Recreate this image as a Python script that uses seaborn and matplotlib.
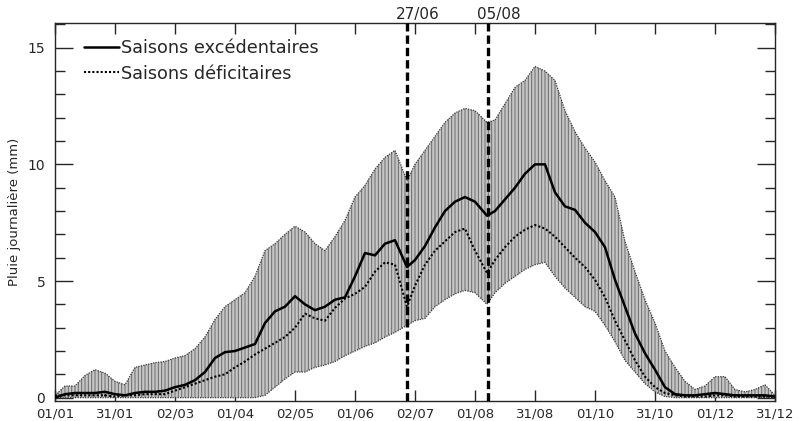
import numpy as np
import pandas as pd
import matplotlib
matplotlib.use("Agg")
import matplotlib.pyplot as plt
import seaborn as sns
from matplotlib.ticker import MultipleLocator
from matplotlib.lines import Line2D

# ---- data ----
days = [0, 5, 10, 15, 20, 25, 30, 35, 40, 45, 50, 55, 60, 65, 70, 75, 80, 85, 90, 95,
        100, 105, 110, 115, 120, 125, 130, 135, 140, 145, 150, 155, 160, 165, 170, 176,
        180, 185, 190, 195, 200, 205, 210, 216, 220, 225, 230, 235, 240, 245, 250, 255,
        260, 265, 270, 275, 280, 285, 290, 295, 300, 305, 310, 315, 320, 325, 330, 335,
        340, 345, 350, 355, 360]

upper = [0.1, 0.5, 0.5, 0.95, 1.2, 1.05, 0.7, 0.55, 1.3, 1.4, 1.5, 1.55, 1.7, 1.8, 2.1, 2.6,
         3.35, 3.9, 4.2, 4.5, 5.2, 6.3, 6.6, 7.0, 7.35, 7.1, 6.6, 6.3, 6.9, 7.6, 8.6, 9.1,
         9.8, 10.3, 10.6, 9.3, 10.0, 10.6, 11.2, 11.8, 12.2, 12.4, 12.3, 11.8, 11.9, 12.6,
         13.3, 13.6, 14.2, 14.0, 13.6, 12.3, 11.4, 10.7, 10.1, 9.3, 8.6, 6.7, 5.4, 4.2, 3.2,
         2.0, 1.3, 0.7, 0.35, 0.5, 0.9, 0.9, 0.35, 0.25, 0.35, 0.55, 0.1]

lower = [0.0, 0.0, 0.0, 0.0, 0.0, 0.0, 0.0, 0.0, 0.0, 0.0, 0.0, 0.0, 0.0, 0.0, 0.0, 0.0,
         0.0, 0.0, 0.0, 0.0, 0.0, 0.1, 0.45, 0.8, 1.1, 1.1, 1.3, 1.4, 1.55, 1.8, 2.0, 2.2,
         2.35, 2.6, 2.8, 3.1, 3.3, 3.4, 3.9, 4.2, 4.45, 4.6, 4.5, 4.0, 4.5, 4.9, 5.2, 5.5,
         5.7, 5.8, 5.2, 4.7, 4.3, 3.9, 3.7, 3.1, 2.4, 1.6, 1.1, 0.6, 0.25, 0.05, 0.0, 0.0,
         0.0, 0.0, 0.0, 0.0, 0.0, 0.0, 0.0, 0.0, 0.0]

excedentaires = [0.0, 0.15, 0.2, 0.2, 0.2, 0.25, 0.15, 0.1, 0.2, 0.25, 0.25, 0.3, 0.45,
                 0.55, 0.75, 1.1, 1.7, 1.95, 2.0, 2.15, 2.3, 3.2, 3.7, 3.9, 4.35, 4.0,
                 3.75, 3.9, 4.2, 4.3, 5.2, 6.2, 6.1, 6.6, 6.75, 5.6, 5.9, 6.5, 7.3, 8.0,
                 8.4, 8.6, 8.4, 7.8, 8.0, 8.5, 9.0, 9.6, 10.0, 10.0, 8.8, 8.2, 8.05, 7.5,
                 7.1, 6.45, 5.05, 3.9, 2.75, 1.9, 1.2, 0.45, 0.15, 0.1, 0.1, 0.15, 0.2,
                 0.15, 0.1, 0.1, 0.1, 0.1, 0.05]

deficitaires = [0.1, 0.1, 0.1, 0.1, 0.1, 0.1, 0.05, 0.1, 0.1, 0.15, 0.15, 0.15, 0.3, 0.45,
                0.6, 0.75, 0.9, 1.0, 1.3, 1.55, 1.85, 2.1, 2.35, 2.6, 3.0, 3.6, 3.4, 3.3,
                3.85, 4.25, 4.45, 4.75, 5.4, 5.8, 5.7, 3.9, 4.8, 5.7, 6.3, 6.7, 7.1, 7.25,
                6.3, 5.35, 5.9, 6.45, 6.9, 7.2, 7.4, 7.25, 6.9, 6.45, 6.0, 5.6, 5.05, 4.3,
                3.3, 2.45, 1.6, 0.9, 0.45, 0.2, 0.1, 0.05, 0.05, 0.05, 0.1, 0.1, 0.05,
                0.05, 0.05, 0.05, 0.05]

tick_days = [0, 30, 60, 90, 120, 150, 180, 210, 240, 270, 300, 330, 360]
tick_labels = ["01/01", "31/01", "02/03", "01/04", "02/05", "01/06", "02/07",
               "01/08", "31/08", "01/10", "31/10", "01/12", "31/12"]
event_days = [176, 216.5]
event_labels = ["27/06", "05/08"]
series_names = ["Saisons excédentaires", "Saisons déficitaires"]

# ---- figure ----
sns.set_style("ticks")
plt.rcParams["font.family"] = ["DejaVu Sans"]
plt.rcParams["hatch.linewidth"] = 0.7

fig = plt.figure(figsize=(8.01, 4.21), dpi=100)
ax = fig.add_axes([55 / 801, 20.3 / 421, 720 / 801, 377.7 / 421])

ax.fill_between(days, lower, upper, facecolor="#c6c6c6", edgecolor="#6a6a6a",
                hatch="|||||", linewidth=0, zorder=1)
ax.plot(days, upper, color="#3a3a3a", lw=0.9, ls=(0, (1, 1)), zorder=2)
ax.plot(days, lower, color="#3a3a3a", lw=0.9, ls=(0, (1, 1)), zorder=2)

df = pd.DataFrame({"jour": days + days,
                   "pluie": excedentaires + deficitaires,
                   "serie": [series_names[0]] * len(days) + [series_names[1]] * len(days)})
sns.lineplot(data=df, x="jour", y="pluie", hue="serie", style="serie",
             palette={series_names[0]: "black", series_names[1]: "black"},
             dashes={series_names[0]: "", series_names[1]: (1, 1)},
             linewidth=1.8, ax=ax, zorder=3, legend=False)
ax.lines[-1].set_linewidth(1.5)

for d, lab in zip(event_days, event_labels):
    ax.axvline(d, color="black", lw=2.4, ls=(0, (2.5, 1.2)), zorder=4)
    ax.annotate(lab, xy=(d, 1.0), xycoords=("data", "axes fraction"),
                xytext=(8, 1), textcoords="offset points", ha="center", va="bottom",
                fontsize=11)

ax.set_xlim(0, 360)
ax.set_ylim(-0.13, 16.06)
ax.set_xticks(tick_days)
ax.set_xticklabels(tick_labels)
ax.set_yticks([0, 5, 10, 15])
ax.yaxis.set_minor_locator(MultipleLocator(1))
ax.tick_params(axis="x", direction="in", top=True, length=8, width=1, labelsize=9.5, pad=5)
ax.tick_params(axis="y", which="major", direction="in", right=True, length=13, width=1,
               labelsize=10, pad=7)
ax.tick_params(axis="y", which="minor", direction="in", right=True, length=7, width=1)
for s in ax.spines.values():
    s.set_visible(True)
    s.set_linewidth(1)
ax.set_xlabel("")
ax.set_ylabel("Pluie journalière (mm)", fontsize=9.5)
ax.yaxis.set_label_coords(-0.047, 0.5)

# legend
handles = [Line2D([], [], color="black", lw=1.8),
           Line2D([], [], color="black", lw=1.5, ls=(0, (1, 1)))]
ax.legend(handles, series_names, loc="upper left",
          bbox_to_anchor=(0.03, 0.975), frameon=False, fontsize=12.7, handlelength=2.0,
          handletextpad=0.1, labelspacing=0.4, borderaxespad=0.0)

fig.savefig("out.png", dpi=100)
